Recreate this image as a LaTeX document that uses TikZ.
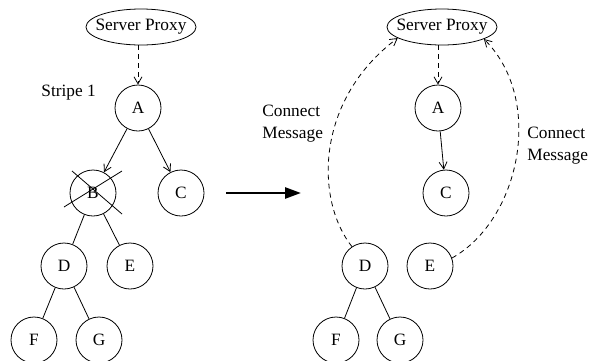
\documentclass[tikz,border=0pt]{standalone}
\usepackage{fontspec}
\setmainfont{Liberation Serif}
\usetikzlibrary{arrows.meta,shapes.geometric}
\begin{document}
\begin{tikzpicture}[x=1bp,y=-1bp,
  font=\fontsize{17.3bp}{22bp}\selectfont,
  every path/.style={line width=0.8bp},
  tn/.style={circle,draw,minimum size=46bp,inner sep=0pt},
  px/.style={ellipse,draw,minimum width=110bp,minimum height=36bp,inner xsep=-7bp,inner ysep=4bp},
  lbl/.style={align=left,anchor=west,inner sep=0pt},
  tip/.style={-{Straight Barb[length=7bp,width=8bp]}},
  dsh/.style={dash pattern=on 5bp off 4bp},
  bigarrow/.style={line width=2.6bp,-{Triangle[length=16bp,width=11bp]}}]
\useasboundingbox (0,0) rectangle (590,360);
% left tree
\node[px] (SPL) at (141,27) {Server Proxy};
\node[tn] (AL) at (138,108) {A};
\node[tn] (BL) at (93,193) {B};
\node[tn] (CL) at (181,193) {C};
\node[tn] (DL) at (64,266) {D};
\node[tn] (EL) at (130,266) {E};
\node[tn] (FL) at (34,340) {F};
\node[tn] (GL) at (99,340) {G};
\node[lbl] (stripe) at (41,93) {Stripe 1};
\draw[tip,dsh] (AL.north |- SPL.south) -- (AL.north);
\draw[tip] (AL) -- (BL);
\draw[tip] (AL) -- (CL);
\draw (BL) -- (DL);
\draw (BL) -- (EL);
\draw (DL) -- (FL);
\draw (DL) -- (GL);
\coordinate (x1a) at (72,171);
\coordinate (x1b) at (122,214);
\coordinate (x2a) at (64,207);
\coordinate (x2b) at (122,171);
\draw (x1a) -- (x1b);
\draw (x2a) -- (x2b);
% transition arrow
\coordinate (ta) at (226,193);
\coordinate (tb) at (301,193);
\draw[bigarrow] (ta) -- (tb);
% right tree
\node[px] (SPR) at (442,27) {Server Proxy};
\node[tn] (AR) at (438,108) {A};
\node[tn] (CR) at (446,193) {C};
\node[tn] (DR) at (365,266) {D};
\node[tn] (ER) at (430,266) {E};
\node[tn] (FR) at (336,340) {F};
\node[tn] (GR) at (400,340) {G};
\draw[tip,dsh] (AR.north |- SPR.south) -- (AR.north);
\draw[tip] (AR) -- (CR);
\draw (DR) -- (FR);
\draw (DR) -- (GR);
\draw[tip,dsh] (DR.124) .. controls (315,200) and (315,100) .. (SPR.194);
\draw[tip,dsh] (ER.20) .. controls (520,220) and (545,100) .. (SPR.344);
\node[lbl] (cml) at (262,124) {Connect\\Message};
\node[lbl] (cmr) at (527,146) {Connect\\Message};
\end{tikzpicture}
\end{document}
